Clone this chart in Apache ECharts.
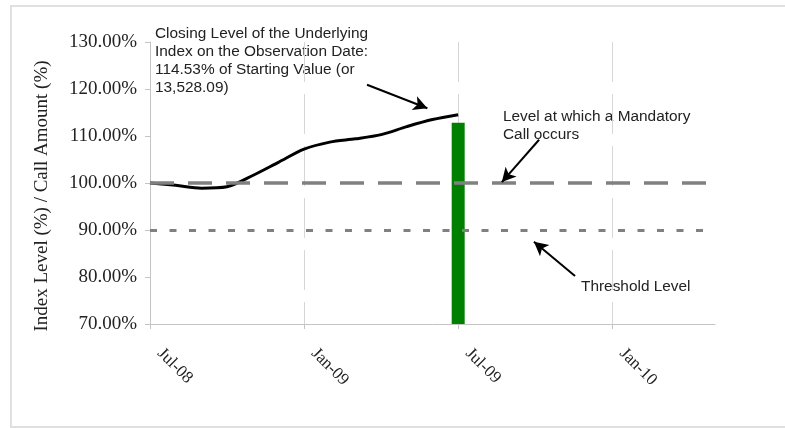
<!doctype html>
<html lang="en">
<head>
    <meta charset="UTF-8">
    <title>Index Level / Call Amount</title>
    <style>
        html, body { margin: 0; padding: 0; background: #fff; }
        #main { width: 785px; height: 428px; }
    </style>
</head>
<body>
<div id="main"></div>
<script type="text/javascript" src="https://cdn.jsdelivr.net/npm/echarts@6/dist/echarts.min.js"></script>
<script type="text/javascript">
    // months on the axis, Jul-08 .. May-10 (only every 6th one is labelled)
    var months = ['Jul-08', 'Aug-08', 'Sep-08', 'Oct-08', 'Nov-08', 'Dec-08',
        'Jan-09', 'Feb-09', 'Mar-09', 'Apr-09', 'May-09', 'Jun-09',
        'Jul-09', 'Aug-09', 'Sep-09', 'Oct-09', 'Nov-09', 'Dec-09',
        'Jan-10', 'Feb-10', 'Mar-10', 'Apr-10', 'May-10'];
    // index level in % of starting value, one point per month
    var indexLevel = [100.0, 99.5, 98.9, 99.2, 101.6, 104.4, 107.2,
        108.7, 109.4, 110.3, 112.0, 113.5, 114.53];
    // call amount, only on the observation date
    var callAmount = [null, null, null, null, null, null, null,
        null, null, null, null, null, 112.8];
    var mandatoryCallLevel = 100;
    var thresholdLevel = 90;
    var yTicks = [70, 80, 90, 100, 110, 120, 130];

    // arrows: [from, to] in (month number, %) on the same scales
    var arrows = [
        [[8.45, 120.9], [10.8, 115.9]],
        [[15.15, 109.2], [13.7, 100.2]],
        [[16.55, 80.2], [14.95, 87.5]]
    ];

    var serif = 'Liberation Serif';
    var sans = 'Liberation Sans';

    var myChart = echarts.init(document.getElementById('main'));
    var option = {
        animation: false,
        backgroundColor: '#fff',
        grid: {left: 150, right: 70, top: 42, bottom: 104},
        xAxis: [{
            type: 'category',
            data: months,
            boundaryGap: false,
            axisLine: {lineStyle: {color: '#c4c4c4', width: 1}},
            axisTick: {interval: 5, length: 5, lineStyle: {color: '#c4c4c4'}},
            axisLabel: {
                interval: 5, rotate: -45, margin: 17, padding: [0, 0, 0, 14],
                fontFamily: serif, fontSize: 17, color: '#222'
            },
            splitLine: {
                show: true, interval: 5,
                lineStyle: {color: '#d6d6d6', width: 1, type: [40, 12]}
            }
        }, {
            type: 'value', min: 0, max: months.length - 1, show: false
        }],
        yAxis: {
            type: 'value',
            min: yTicks[0],
            max: yTicks[yTicks.length - 1],
            interval: 10,
            name: 'Index Level (%) / Call Amount (%)',
            nameLocation: 'middle',
            nameGap: 98,
            nameTextStyle: {
                fontFamily: serif, fontSize: 19, color: '#222',
                padding: [0, 26, 0, 0]
            },
            axisLine: {show: true, lineStyle: {color: '#c4c4c4', width: 1}},
            axisTick: {show: true, length: 5, lineStyle: {color: '#c4c4c4'}},
            axisLabel: {
                margin: 13, fontFamily: serif, fontSize: 19, color: '#222',
                formatter: function (v) { return v.toFixed(2) + '%'; }
            },
            splitLine: {show: false}
        },
        series: [{
            name: 'Call Amount',
            type: 'bar',
            data: callAmount,
            barWidth: 13,
            itemStyle: {color: '#008000'},
            z: 1
        }, {
            name: 'Index Level',
            type: 'line',
            data: indexLevel,
            smooth: 0.3,
            showSymbol: false,
            symbol: 'none',
            lineStyle: {color: '#000', width: 3},
            z: 3,
            markLine: {
                silent: true,
                symbol: 'none',
                label: {show: false},
                data: [{
                    yAxis: mandatoryCallLevel,
                    lineStyle: {color: '#808080', width: 3.5, type: [24, 14]}
                }, {
                    yAxis: thresholdLevel,
                    lineStyle: {color: '#808080', width: 3, type: [7, 12.5]}
                }]
            }
        }, {
            name: 'Arrows',
            type: 'line',
            xAxisIndex: 1,
            data: [],
            z: 4,
            markLine: {
                silent: true,
                symbol: ['none', 'arrow'],
                symbolSize: [11, 14],
                label: {show: false},
                lineStyle: {color: '#000', width: 2, type: 'solid'},
                data: arrows.map(function (a) {
                    return [{coord: a[0]}, {coord: a[1]}];
                })
            }
        }],
        graphic: [{
            type: 'rect',
            shape: {x: 11, y: 6, width: 800, height: 421},
            style: {fill: 'none', stroke: '#e0e0e0', lineWidth: 2},
            silent: true
        }, {
            type: 'text', left: 155, top: 25,
            style: {
                text: 'Closing Level of the Underlying\nIndex on the Observation Date:\n114.53% of Starting Value (or\n13,528.09)',
                font: '15.4px ' + sans, fill: '#222', lineHeight: 18
            }
        }, {
            type: 'text', left: 503, top: 108,
            style: {
                text: 'Level at which a Mandatory\nCall occurs',
                font: '15.4px ' + sans, fill: '#222', lineHeight: 18
            }
        }, {
            type: 'text', left: 581, top: 278,
            style: {
                text: 'Threshold Level',
                font: '15.4px ' + sans, fill: '#222', lineHeight: 18
            }
        }]
    };
    myChart.setOption(option);
</script>
</body>
</html>
